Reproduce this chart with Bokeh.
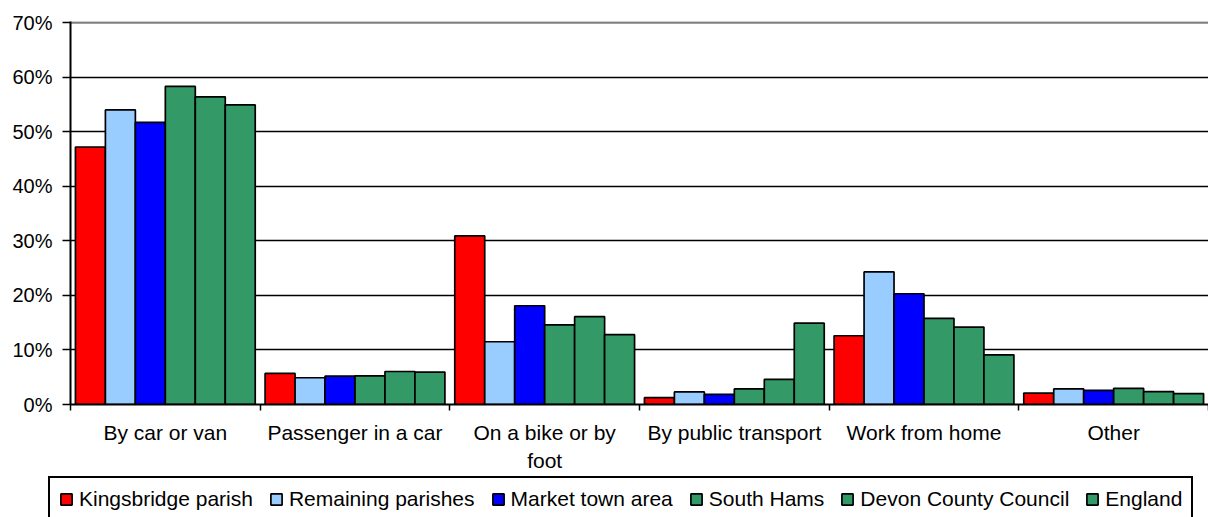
from bokeh.plotting import figure
from bokeh.models import (ColumnDataSource, FixedTicker, NumeralTickFormatter, Range1d,
                          Legend, LegendItem, Grid, LinearAxis)
from bokeh.layouts import column
from bokeh.embed import file_html
from bokeh.resources import INLINE
import numpy as np

categories = ["By car or van", "Passenger in a car", "On a bike or by\nfoot",
              "By public transport", "Work from home", "Other"]
series_names = ["Kingsbridge parish", "Remaining parishes", "Market town area",
                "South Hams", "Devon County Council", "England"]
kingsbridge = [47.2, 5.7, 30.9, 1.25, 12.6, 2.1]
remaining = [54.0, 4.9, 11.5, 2.3, 24.3, 2.85]
market_town = [51.7, 5.2, 18.1, 1.85, 20.3, 2.6]
south_hams = [58.3, 5.25, 14.6, 2.85, 15.8, 2.97]
devon = [56.4, 6.05, 16.1, 4.6, 14.2, 2.35]
england = [54.9, 5.95, 12.8, 14.9, 9.1, 2.0]
series_values = [kingsbridge, remaining, market_town, south_hams, devon, england]
colors = ["#FF0000", "#99CCFF", "#0000FF", "#339966", "#339966", "#339966"]
y_ticks = [0, 0.1, 0.2, 0.3, 0.4, 0.5, 0.6, 0.7]

FONT = "Liberation Sans"
n = len(categories)
centers = np.arange(n) + 0.5
bar_w = 0.158

p = figure(frame_width=1138, frame_height=383, output_backend="svg", toolbar_location=None,
           x_range=Range1d(0, n), y_range=Range1d(0, y_ticks[-1] + 0.002),
           min_border_left=70, min_border_right=0, min_border_top=21, min_border_bottom=0,
           x_axis_type=None, y_axis_type=None)
p.outline_line_color = None
p.background_fill_color = "white"
p.border_fill_color = "white"

sources = []
for j, (name, vals, col) in enumerate(zip(series_names, series_values, colors)):
    src = ColumnDataSource(dict(x=centers + (j - 2.5) * bar_w,
                                top=np.array(vals) / 100.0))
    sources.append(src)
    p.vbar(x="x", top="top", bottom=0, width=bar_w, source=src,
           fill_color=col, line_color="black", line_width=1.7)

# grid lines
g = Grid(dimension=1, ticker=FixedTicker(ticks=y_ticks[1:-1]))
g.grid_line_color = "black"
g.grid_line_width = 1.5
p.add_layout(g)
g2 = Grid(dimension=1, ticker=FixedTicker(ticks=y_ticks[-1:]))
g2.grid_line_color = "#808080"
g2.grid_line_width = 2.5
p.add_layout(g2)

# y axis
yax = LinearAxis(ticker=FixedTicker(ticks=y_ticks, minor_ticks=[]),
                 formatter=NumeralTickFormatter(format="0%"))
yax.axis_line_color = "black"
yax.axis_line_width = 2
yax.major_tick_in = 0
yax.major_tick_out = 8
yax.major_tick_line_color = "black"
yax.major_tick_line_width = 1.5
yax.major_label_standoff = 10
yax.major_label_text_font = FONT
yax.major_label_text_font_size = "20px"
yax.major_label_text_color = "black"
p.add_layout(yax, "left")

# x axis: labels at centres, ticks at boundaries
xax = LinearAxis(ticker=FixedTicker(ticks=list(centers),
                                    minor_ticks=list(np.arange(n + 1))))
xax.major_label_overrides = {float(c): lab for c, lab in zip(centers, categories)}
xax.axis_line_color = "black"
xax.axis_line_width = 2
xax.major_tick_in = 0
xax.major_tick_out = 0
xax.minor_tick_in = 0
xax.minor_tick_out = 6
xax.minor_tick_line_color = "black"
xax.minor_tick_line_width = 1.5
xax.major_label_standoff = 10
xax.major_label_text_font = FONT
xax.major_label_text_font_size = "21px"
xax.major_label_text_color = "black"
xax.major_label_text_line_height = 1.25
p.add_layout(xax, "below")

# legend strip (same data, drawn outside its view so only the legend shows)
p2 = figure(frame_width=1208, frame_height=45, output_backend="svg", toolbar_location=None,
            min_border=0, x_axis_type=None, y_axis_type=None,
            x_range=Range1d(n + 1, n + 2), y_range=Range1d(0, 1))
p2.outline_line_color = None
p2.grid.visible = False
p2.border_fill_color = "white"
p2.background_fill_color = "white"
items = []
for name, col, src in zip(series_names, colors, sources):
    r = p2.vbar(x="x", top="top", bottom=0, width=bar_w, source=src,
                fill_color=col, line_color="black", line_width=1.7)
    items.append(LegendItem(label=name, renderers=[r]))
legend = Legend(items=items, orientation="horizontal", location=(48, -2))
legend.label_text_font = FONT
legend.label_text_font_size = "21px"
legend.label_text_color = "black"
legend.glyph_width = 14
legend.glyph_height = 14
legend.label_standoff = 6
legend.spacing = 16
legend.padding = 9
legend.margin = 0
legend.border_line_color = "black"
legend.border_line_width = 2.5
legend.border_line_alpha = 1
legend.background_fill_alpha = 1
p2.add_layout(legend, "center")

layout = column(p, p2, spacing=0)
open("out.html", "w").write(file_html(layout, INLINE))
